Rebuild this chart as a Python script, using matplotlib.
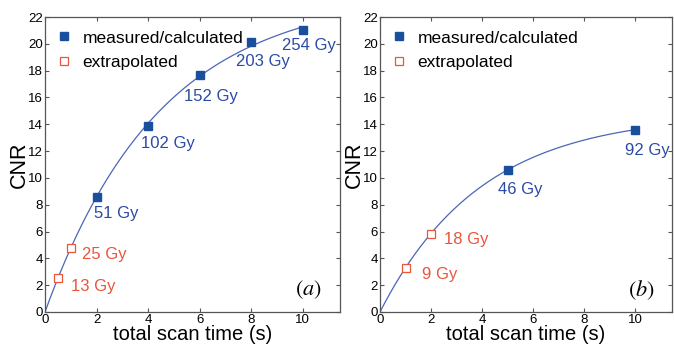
import numpy as np
import matplotlib
matplotlib.use("Agg")
import matplotlib.pyplot as plt

plt.rcParams['font.family'] = ['Liberation Sans', 'DejaVu Sans']
plt.rcParams['mathtext.fontset'] = 'stix'

# Panel (a)
a_meas_t = [2, 4, 6, 8, 10]
a_meas_cnr = [8.6, 13.9, 17.65, 20.1, 21.05]
a_meas_lab = ["51 Gy", "102 Gy", "152 Gy", "203 Gy", "254 Gy"]
a_ext_t = [0.5, 1.0]
a_ext_cnr = [2.5, 4.8]
a_ext_lab = ["13 Gy", "25 Gy"]

# Panel (b)
b_meas_t = [5, 10]
b_meas_cnr = [10.6, 13.6]
b_meas_lab = ["46 Gy", "92 Gy"]
b_ext_t = [1.0, 2.0]
b_ext_cnr = [3.3, 5.85]
b_ext_lab = ["9 Gy", "18 Gy"]

xticks = [0, 2, 4, 6, 8, 10]
yticks = [0, 2, 4, 6, 8, 10, 12, 14, 16, 18, 20, 22]

BLUE_M = '#1a4f9e'
BLUE_L = '#4a66b8'
BLUE_T = '#2b4aa6'
RED = '#e8553a'
SPINE = '#555555'


def fit_curve(t, c):
    t = np.asarray(t, float)
    c = np.asarray(c, float)
    best = None
    for tau in np.linspace(0.5, 20, 2000):
        f = 1 - np.exp(-t / tau)
        amp = np.dot(f, c) / np.dot(f, f)
        err = np.sum((amp * f - c) ** 2)
        if best is None or err < best[0]:
            best = (err, amp, tau)
    return best[1], best[2]


def panel(ax, mt, mc, ml, et, ec, el, moff, eoff, tag):
    allt = list(et) + list(mt)
    allc = list(ec) + list(mc)
    amp, tau = fit_curve(allt, allc)
    tt = np.linspace(0, max(mt), 300)
    ax.plot(tt, amp * (1 - np.exp(-tt / tau)), color=BLUE_L, lw=0.9, zorder=2)
    ax.plot(mt, mc, 's', color=BLUE_M, ms=6, zorder=3, label='measured/calculated')
    ax.plot(et, ec, 's', mfc='white', mec=RED, mew=0.9, ms=6, zorder=3, label='extrapolated')
    for x, y, s, o in zip(mt, mc, ml, moff):
        ax.annotate(s, (x, y), xytext=o, textcoords='offset points', color=BLUE_T,
                    fontsize=12, ha='left', va='center')
    for x, y, s, o in zip(et, ec, el, eoff):
        ax.annotate(s, (x, y), xytext=o, textcoords='offset points', color=RED,
                    fontsize=12, ha='left', va='center')
    ax.set_xlim(0, 11.45)
    ax.set_ylim(0, 22)
    ax.set_xticks(xticks)
    ax.set_yticks(yticks)
    ax.tick_params(direction='in', top=True, right=True, length=3, width=0.8,
                   labelsize=9.5, pad=1.5, color=SPINE)
    for sp in ax.spines.values():
        sp.set_color(SPINE)
        sp.set_linewidth(0.9)
    ax.set_xlabel('total scan time (s)', fontsize=14.5, labelpad=-1)
    ax.set_ylabel('CNR', fontsize=15.5, labelpad=-1)
    ax.text(0.94, 0.075, tag, transform=ax.transAxes, fontsize=16, ha='right', va='center')
    ax.legend(loc='upper left', frameon=False, fontsize=12.5, handlelength=0.6,
              handletextpad=0.75, borderaxespad=0.2, labelspacing=0.55,
              bbox_to_anchor=(0.012, 0.99))


fig = plt.figure(figsize=(6.74, 3.5), dpi=100)
ax1 = fig.add_axes([45 / 674, 38 / 350, 295 / 674, 295 / 350])
ax2 = fig.add_axes([380 / 674, 38 / 350, 292 / 674, 295 / 350])

panel(ax1, a_meas_t, a_meas_cnr, a_meas_lab, a_ext_t, a_ext_cnr, a_ext_lab,
      [(-2, -12), (-5, -13), (-11, -15), (-11, -14), (-15, -11.5)],
      [(9.5, -5.5), (8, -5)], r'$(a)$')
panel(ax2, b_meas_t, b_meas_cnr, b_meas_lab, b_ext_t, b_ext_cnr, b_ext_lab,
      [(-7, -14), (-7, -15)],
      [(12, -4.5), (9.5, -4.5)], r'$(b)$')

fig.savefig('out.png', dpi=100)
